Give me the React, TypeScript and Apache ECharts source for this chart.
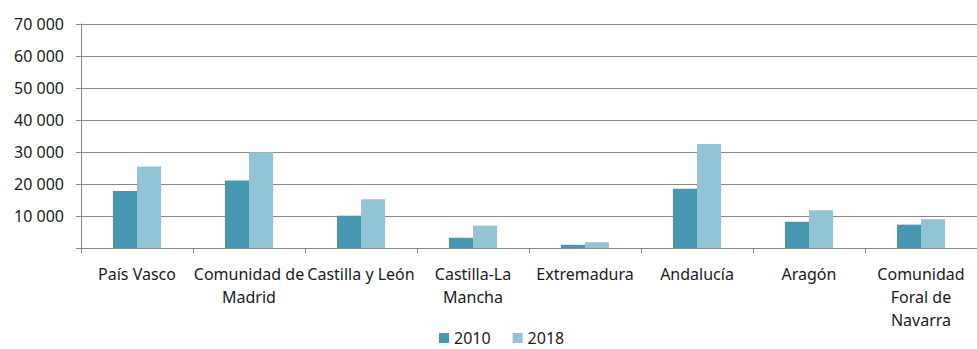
import React, { useEffect, useRef } from "react";
import * as echarts from "echarts";

const categories = [
  "País Vasco",
  "Comunidad de\nMadrid",
  "Castilla y León",
  "Castilla-La\nMancha",
  "Extremadura",
  "Andalucía",
  "Aragón",
  "Comunidad\nForal de\nNavarra",
];
const seriesNames = ["2010", "2018"];
const values2010 = [17800, 21100, 10100, 3200, 1000, 18500, 8200, 7300];
const values2018 = [25500, 29900, 15200, 7000, 1800, 32500, 11800, 9000];
const yTicks = [0, 10000, 20000, 30000, 40000, 50000, 60000, 70000];

const fmt = (v: number) =>
  v === 0 ? "" : String(v).replace(/\B(?=(\d{3})+(?!\d))/g, " ");

export default function App() {
  const ref = useRef<HTMLDivElement>(null);
  useEffect(() => {
    if (!ref.current) return;
    const chart = echarts.init(ref.current, undefined, { renderer: "svg" });
    const font = "Noto Sans";
    chart.setOption({
      animation: false,
      backgroundColor: "#ffffff",
      textStyle: { fontFamily: font },
      grid: { left: 81, top: 24, width: 908, height: 224, containLabel: false },
      legend: {
        data: seriesNames,
        top: 330,
        left: 439,
        padding: 0,
        itemWidth: 10,
        itemHeight: 10,
        itemGap: 22,
        icon: "rect",
        textStyle: { fontFamily: font, fontSize: 16, color: "#1a1a1a", lineHeight: 16 },
      },
      xAxis: {
        type: "category",
        data: categories,
        axisLine: { show: true, lineStyle: { color: "#888", width: 1 } },
        axisTick: { show: true, length: 5, lineStyle: { color: "#888" } },
        axisLabel: {
          interval: 0,
          margin: 14,
          fontFamily: font,
          fontSize: 16,
          color: "#1a1a1a",
          lineHeight: 23,
        },
      },
      yAxis: {
        type: "value",
        min: yTicks[0],
        max: yTicks[yTicks.length - 1],
        interval: 10000,
        axisLine: { show: true, lineStyle: { color: "#888", width: 1 } },
        axisTick: { show: true, length: 5, lineStyle: { color: "#888" } },
        splitLine: { show: true, lineStyle: { color: "#888", width: 1 } },
        axisLabel: {
          formatter: fmt,
          margin: 17,
          fontFamily: font,
          fontSize: 16,
          color: "#1a1a1a",
        },
      },
      series: [
        {
          name: seriesNames[0],
          type: "bar",
          data: values2010,
          barGap: "0%",
          barCategoryGap: "57%",
          itemStyle: { color: "#4598AF" },
        },
        {
          name: seriesNames[1],
          type: "bar",
          data: values2018,
          barGap: "0%",
          barCategoryGap: "57%",
          itemStyle: { color: "#93C4D6" },
        },
      ],
    });
    return () => chart.dispose();
  }, []);
  return (
    <div
      ref={ref}
      style={{
        position: "fixed",
        left: 0,
        top: 0,
        width: 977,
        height: 349,
        overflow: "hidden",
      }}
    />
  );
}
